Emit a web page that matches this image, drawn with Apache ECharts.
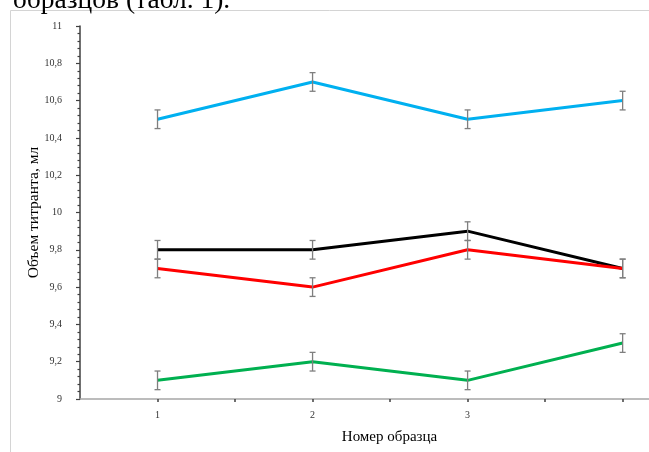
<!DOCTYPE html>
<html>
<head>
<meta charset="utf-8">
<script src="https://cdn.jsdelivr.net/npm/echarts@6/dist/echarts.min.js"></script>
<style>
  html, body { margin: 0; padding: 0; background: #fff; }
  #chart { width: 649px; height: 452px; }
</style>
</head>
<body>
<div id="chart"></div>
<script>
// Sample numbers on the x axis
const samples = [1, 2, 3, 4];
const tickLabels = ['1', '2', '3'];

// Titrant volume, ml, per series
const blueSeries = [10.5, 10.7, 10.5, 10.6];
const blackSeries = [9.8, 9.8, 9.9, 9.7];
const redSeries = [9.7, 9.6, 9.8, 9.7];
const greenSeries = [9.1, 9.2, 9.1, 9.3];

// Half-width of the error bars, ml
const errorHalf = 0.05;

const serif = 'Liberation Serif';

function toPoints(values) {
  return samples.map((s, i) => [s, values[i]]);
}

function lineSeries(values, color) {
  return {
    type: 'line',
    data: toPoints(values),
    showSymbol: false,
    symbol: 'none',
    lineStyle: { color: color, width: 3 },
    z: 2,
    animation: false
  };
}

function errorSeries(values) {
  return {
    type: 'custom',
    data: samples.map((s, i) => [s, values[i] - errorHalf, values[i] + errorHalf]),
    renderItem: function (params, api) {
      const lo = api.coord([api.value(0), api.value(1)]);
      const hi = api.coord([api.value(0), api.value(2)]);
      const cap = 3;
      const style = { stroke: '#7f7f7f', lineWidth: 1.3 };
      return {
        type: 'group',
        children: [
          { type: 'line', shape: { x1: lo[0], y1: lo[1], x2: hi[0], y2: hi[1] }, style: style },
          { type: 'line', shape: { x1: lo[0] - cap, y1: lo[1], x2: lo[0] + cap, y2: lo[1] }, style: style },
          { type: 'line', shape: { x1: hi[0] - cap, y1: hi[1], x2: hi[0] + cap, y2: hi[1] }, style: style }
        ]
      };
    },
    z: 5,
    animation: false
  };
}

const chart = echarts.init(document.getElementById('chart'), null, { renderer: 'canvas' });

chart.setOption({
  backgroundColor: '#ffffff',
  animation: false,
  grid: { left: 80, right: 0, top: 26, bottom: 53, containLabel: false },
  graphic: [
    {
      type: 'text',
      left: 13,
      top: -13,
      style: { text: 'образцов (табл. 1).', font: '27.5px "' + serif + '"', fill: '#000' },
      z: 10
    },
    {
      type: 'line',
      shape: { x1: 10.5, y1: 10.5, x2: 649, y2: 10.5 },
      style: { stroke: '#d4d4d4', lineWidth: 1 },
      z: 0
    },
    {
      type: 'line',
      shape: { x1: 10.5, y1: 10.5, x2: 10.5, y2: 452 },
      style: { stroke: '#d4d4d4', lineWidth: 1 },
      z: 0
    }
  ],
  xAxis: {
    type: 'value',
    min: 0.5,
    max: 4.17,
    interval: 0.5,
    name: 'Номер образца',
    nameLocation: 'middle',
    nameGap: 31,
    nameMoveOverlap: false,
    nameTextStyle: { fontFamily: serif, fontSize: 15, color: '#000', padding: [0, 0, 0, 50] },
    axisLine: { show: true, lineStyle: { color: '#a6a6a6', width: 1.5 } },
    axisTick: { show: true, length: 3, lineStyle: { color: '#404040', width: 1.5 } },
    axisLabel: {
      margin: 11,
      fontFamily: serif,
      fontSize: 10,
      color: '#333',
      showMinLabel: false,
      showMaxLabel: false,
      formatter: function (v) {
        const idx = tickLabels.indexOf(String(v));
        return idx >= 0 ? tickLabels[idx] : '';
      }
    },
    splitLine: { show: false }
  },
  yAxis: {
    type: 'value',
    min: 9,
    max: 11,
    interval: 0.2,
    name: 'Объем титранта, мл',
    nameLocation: 'middle',
    nameGap: 38,
    nameMoveOverlap: false,
    nameTextStyle: { fontFamily: serif, fontSize: 15.5, color: '#000' },
    axisLine: { show: true, lineStyle: { color: '#404040', width: 1.5 } },
    axisTick: { show: true, length: 4, lineStyle: { color: '#404040', width: 1.2 } },
    minorTick: { show: true, splitNumber: 5, length: 2.5, lineStyle: { color: '#404040', width: 1.2 } },
    axisLabel: {
      margin: 18,
      fontFamily: serif,
      fontSize: 10,
      color: '#333',
      formatter: function (v) {
        return String(Math.round(v * 10) / 10).replace('.', ',');
      }
    },
    splitLine: { show: false },
    minorSplitLine: { show: false }
  },
  series: [
    lineSeries(blueSeries, '#00b0f0'),
    lineSeries(blackSeries, '#000000'),
    lineSeries(redSeries, '#ff0000'),
    lineSeries(greenSeries, '#00b050'),
    errorSeries(blueSeries),
    errorSeries(blackSeries),
    errorSeries(redSeries),
    errorSeries(greenSeries)
  ]
});
</script>
</body>
</html>
